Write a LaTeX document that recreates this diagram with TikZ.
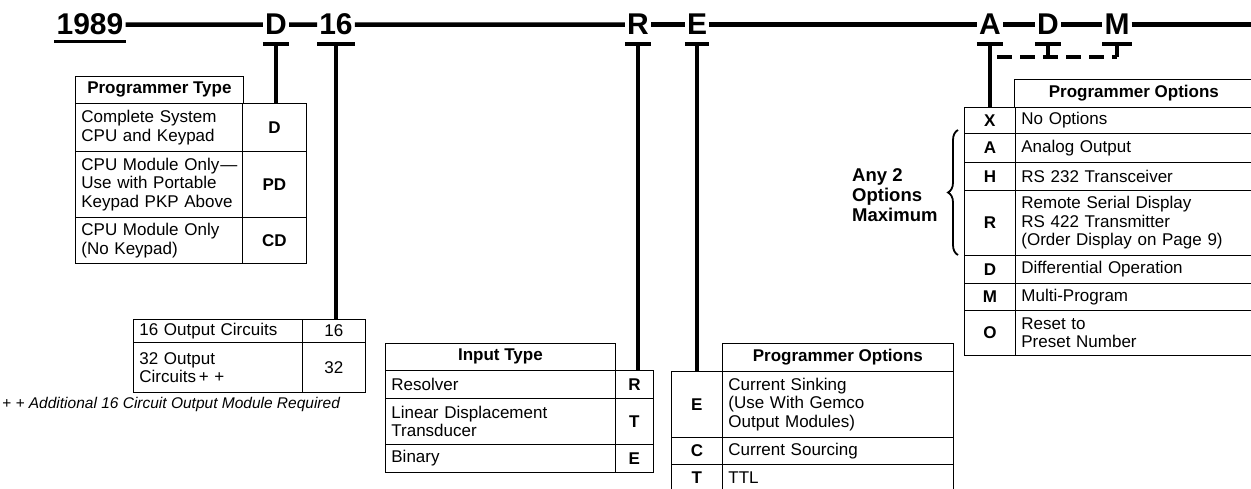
\documentclass[tikz,border=0pt]{standalone}
\usepackage{fontspec}
\setmainfont{Liberation Sans}
\usepackage{tikz}
\usetikzlibrary{positioning, decorations.pathreplacing}

\newcommand{\codefont}{\fontsize{30}{30}\selectfont\bfseries}
\newcommand{\tabfont}{\fontsize{17}{18.5}\selectfont}

\tikzset{
  rule/.style={line width=4.5pt},
  stem/.style={line width=4.5pt},
  tbar/.style={line width=4pt},
  letter/.style={font=\codefont, inner xsep=2pt, inner ysep=0pt, anchor=base},
  cell/.style={draw, line width=0.8pt, anchor=north west, inner xsep=6pt, inner ysep=0pt, font=\tabfont},
  desc/.style={cell, align=left, text width=#1},
  code/.style={cell, font=\tabfont\bfseries, minimum width=#1},
  val/.style={cell, minimum width=#1},
  head/.style={cell, font=\tabfont\bfseries, minimum width=#1},
}

\begin{document}
\begin{tikzpicture}[x=1pt, y=-1pt]
        \useasboundingbox (0,0) rectangle (1251,489);

        % model number
        \node[letter] (yr) at (90,35) {1989};
        \node[letter] (pt) at (276,35) {D};
        \node[letter] (oc) at (336,35) {16};
        \node[letter] (it) at (638,35) {R};
        \node[letter] (eo) at (697,35) {E};
        \node[letter] (xa) at (990,35) {A};
        \node[letter] (xd) at (1048,35) {D};
        \node[letter] (xm) at (1117,35) {M};
        \coordinate (lnEnd) at (xm -| 1252,0);

        \draw[rule] (yr) -- (pt);
        \draw[rule] (pt) -- (oc);
        \draw[rule] (oc) -- (it);
        \draw[rule] (it) -- (eo);
        \draw[rule] (eo) -- (xa);
        \draw[rule] (xa) -- (xd);
        \draw[rule] (xd) -- (xm);
        \draw[rule] (xm) -- (lnEnd);
        \draw[line width=3pt] ([yshift=-7pt]yr.base west) -- ([yshift=-7pt]yr.base east);

        % T bars
        \foreach \n in {pt, oc, it, eo, xa, xd, xm}
            \draw[tbar] ([yshift=-9pt]\n.base west) -- ([yshift=-9pt]\n.base east);

        % programmer type
        \node[head=168pt, minimum height=27pt] (ptH) at (75,76) {Programmer Type};
        \node[desc=155pt, minimum height=48pt] (ptA) at (75,103) {Complete System\\CPU and Keypad};
        \node[code=64pt, minimum height=48pt] (ptD) at (242,103) {D};
        \node[desc=155pt, minimum height=66pt] (ptB) at (75,151) {\mbox{CPU Module Only\kern1pt---}\\Use with Portable\\Keypad PKP Above};
        \node[code=64pt, minimum height=66pt] (ptPD) at (242,151) {PD};
        \node[desc=155pt, minimum height=46pt] (ptC) at (75,217) {CPU Module Only\\(No Keypad)};
        \node[code=64pt, minimum height=46pt] (ptCD) at (242,217) {CD};

        % output circuits
        \node[desc=157pt, minimum height=23pt] (ocA) at (133,319) {16 Output Circuits};
        \node[val=63pt, minimum height=23pt] (oc16) at (302,319) {16};
        \node[desc=157pt, minimum height=50pt] (ocB) at (133,342) {32 Output\\Circuits\,+ +};
        \node[val=63pt, minimum height=50pt] (oc32) at (302,342) {32};
        \node[anchor=base west, inner sep=0pt, font=\fontsize{15.5}{18}\selectfont\itshape] (ocN) at (2,408)
            {+ + Additional 16 Circuit Output Module Required};

        % input type
        \node[head=230pt, minimum height=27pt] (itH) at (385,343) {Input Type};
        \node[desc=218pt, minimum height=28pt] (itA) at (385,370) {Resolver};
        \node[code=38pt, minimum height=28pt] (itR) at (615,370) {R};
        \node[desc=218pt, minimum height=46pt] (itB) at (385,398) {Linear Displacement\\Transducer};
        \node[code=38pt, minimum height=46pt] (itT) at (615,398) {T};
        \node[desc=218pt, minimum height=28pt] (itC) at (385,444) {Binary};
        \node[code=38pt, minimum height=28pt] (itE) at (615,444) {E};

        % output type
        \node[head=231pt, minimum height=28pt] (eoH) at (722,343) {Programmer Options};
        \node[code=51pt, minimum height=66pt] (eoE) at (671,371) {E};
        \node[desc=219pt, minimum height=66pt] (eoA) at (722,371) {Current Sinking\\(Use With Gemco\\Output Modules)};
        \node[code=51pt, minimum height=27pt] (eoC) at (671,437) {C};
        \node[desc=219pt, minimum height=27pt] (eoB) at (722,437) {Current Sourcing};
        \node[code=51pt, minimum height=27pt] (eoT) at (671,464) {T};
        \node[desc=219pt, minimum height=27pt] (eoD) at (722,464) {TTL};

        % programmer options
        \node[head=239pt, minimum height=28pt] (poH) at (1014,79) {Programmer Options};
        \node[code=51pt, minimum height=26pt] (poX) at (964,107) {X};
        \node[desc=226pt, minimum height=26pt] (poXd) at (1015,107) {No Options};
        \node[code=51pt, minimum height=29pt] (poA) at (964,133) {A};
        \node[desc=226pt, minimum height=29pt] (poAd) at (1015,133) {Analog Output};
        \node[code=51pt, minimum height=28pt] (poH2) at (964,162) {H};
        \node[desc=226pt, minimum height=28pt] (poHd) at (1015,162) {RS 232 Transceiver};
        \node[code=51pt, minimum height=65pt] (poR) at (964,190) {R};
        \node[desc=226pt, minimum height=65pt] (poRd) at (1015,190) {Remote Serial Display\\RS 422 Transmitter\\(Order Display on Page 9)};
        \node[code=51pt, minimum height=28pt] (poD) at (964,255) {D};
        \node[desc=226pt, minimum height=28pt] (poDd) at (1015,255) {Differential Operation};
        \node[code=51pt, minimum height=27pt] (poM) at (964,283) {M};
        \node[desc=226pt, minimum height=27pt] (poMd) at (1015,283) {Multi-Program};
        \node[code=51pt, minimum height=45pt] (poO) at (964,310) {O};
        \node[desc=226pt, minimum height=45pt] (poOd) at (1015,310) {Reset to\\Preset Number};

        \node[anchor=west, align=left, inner sep=0pt, font=\fontsize{18.5}{20}\selectfont\bfseries] (anyN) at (852,195)
            {Any 2\\Options\\Maximum};
        \coordinate (brT) at (958,130);
        \coordinate (brB) at (958,255);
        \draw[line width=1.8pt, decorate, decoration={brace, amplitude=10pt}] (brB) -- (brT);

        % stems
        \draw[stem] ([yshift=-9pt]pt.base) -- (pt.base |- ptD.north);
        \draw[stem] ([yshift=-9pt]oc.base) -- (oc.base |- oc16.north);
        \draw[stem] ([yshift=-9pt]it.base) -- (it.base |- itR.north);
        \draw[stem] ([yshift=-9pt]eo.base) -- (eo.base |- eoE.north);
        \draw[stem] ([yshift=-9pt]xa.base) -- (xa.base |- poX.north);

        \coordinate (dsA) at (997,57);
        \coordinate (dsB) at (1117,57);
        \draw[stem, dash pattern=on 15pt off 8pt] (dsA) -- (dsB);
        \draw[stem] ([yshift=-9pt]xd.base) -- (xd.base |- dsA);
        \draw[stem] ([yshift=-9pt]xm.base) -- (xm.base |- dsA);
    \end{tikzpicture}
\end{document}
